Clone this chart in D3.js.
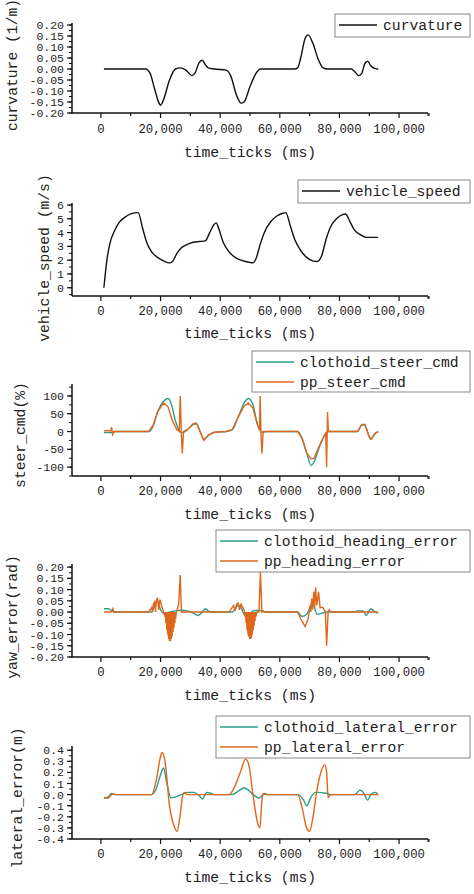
<!DOCTYPE html>
<html><head><meta charset="utf-8">
<script src="https://cdn.jsdelivr.net/npm/d3@7"></script>
<style>body{margin:0;background:#fff}text{font-family:"Liberation Mono","DejaVu Sans Mono",monospace;fill:#222}</style>
</head><body><svg id="chart" width="474" height="894"></svg>
<script>
// data: [time_ms, value]
const curvature = [[1000,0],[15000,0],[16500,-0.02],[18000,-0.09],[19500,-0.155],[20000,-0.165],[21000,-0.14],[23000,-0.05],[25000,0],[26500,0.005],[28500,-0.005],[30500,-0.03],[31500,-0.02],[33000,0.03],[34000,0.04],[35000,0.02],[36000,0.005],[38000,0],[42000,-0.005],[43500,-0.03],[45500,-0.12],[47000,-0.155],[48000,-0.15],[50000,-0.08],[52000,-0.02],[53500,0],[65000,0],[66000,0.005],[67000,0.05],[68500,0.14],[69500,0.155],[71000,0.12],[73000,0.04],[74500,0.005],[76000,0],[84000,0],[85000,-0.01],[86500,-0.03],[87500,-0.02],[88500,0.025],[89500,0.035],[90500,0.015],[92000,0.002],[93000,0]];
const vehicleSpeed = [[1000,0],[2000,2],[3000,3.2],[4500,4.1],[6000,4.7],[8000,5.1],[10000,5.35],[12500,5.45],[14000,4.3],[15500,3.2],[17000,2.6],[19000,2.2],[21000,1.95],[23000,1.8],[24000,1.9],[25500,2.5],[27000,2.9],[29000,3.15],[31000,3.3],[33000,3.35],[35000,3.4],[36500,4],[38000,4.6],[38700,4.7],[39500,4.3],[41000,3.3],[43000,2.6],[45000,2.2],[47000,2.0],[49500,1.85],[51000,1.8],[52000,2.1],[53500,3.2],[55000,4.1],[57000,4.8],[59000,5.2],[61000,5.4],[62000,5.45],[63500,4.5],[65000,3.5],[67000,2.7],[69000,2.2],[71000,1.95],[72500,1.9],[74000,2.3],[75500,3.5],[77000,4.4],[79000,5.0],[81000,5.3],[82000,5.35],[83500,4.8],[85000,4.2],[87000,3.85],[89000,3.65],[93000,3.65]];
const clothoidSteer = [[1000,-3],[4000,-3],[5000,0],[16000,0],[17500,15],[19000,55],[21000,85],[22500,93],[23500,80],[25000,30],[26500,0],[27500,-3],[29000,5],[31000,20],[32000,22],[33500,-5],[34500,-22],[36000,-12],[38000,-2],[42000,0],[44000,5],[46000,40],[48000,80],[49500,93],[51000,75],[52500,20],[54000,-2],[56000,0],[66000,0],[67500,-20],[69000,-60],[70500,-95],[71500,-85],[73000,-50],[75000,-10],[76500,0],[86000,0],[87500,18],[88500,18],[90000,-15],[90500,-22],[92000,-5],[93000,0]];
const ppSteer = [[1000,2],[3300,2],[3600,12],[3900,-8],[4300,0],[16000,0],[17500,18],[19000,55],[21000,80],[22500,70],[24000,30],[25500,5],[26300,0],[26600,100],[27000,-10],[27300,-62],[27700,0],[29000,5],[31000,22],[32000,24],[33500,-5],[34500,-25],[36000,-10],[38000,-2],[42000,0],[44000,5],[46000,40],[48000,72],[49500,80],[51000,65],[52500,20],[53200,5],[53400,100],[53700,-10],[54000,-62],[54400,0],[56000,0],[66000,0],[67500,-20],[69000,-60],[70500,-77],[71500,-75],[73000,-45],[75000,-10],[75400,-5],[75700,-100],[76000,55],[76300,0],[86000,0],[87500,20],[88500,20],[90000,-15],[90500,-22],[92000,-5],[93000,0]];
const clothoidHeading = [[1000,0.015],[2500,0.015],[3500,0.005],[5000,0],[17000,0],[18000,0.03],[19000,0.05],[20000,0.01],[21000,-0.005],[24000,0.003],[27000,0.008],[29000,0.005],[31000,-0.005],[32500,-0.015],[34000,0],[35000,0.015],[36000,0.005],[37000,0],[44000,0],[46000,0.03],[47000,0.02],[48000,-0.01],[49000,-0.02],[51000,0.005],[53000,0.008],[55000,0],[66000,0],[67500,-0.02],[69000,-0.01],[71000,0.04],[72500,-0.01],[74000,-0.005],[76000,0],[85000,0],[86000,0.005],[88000,0.005],[89000,-0.015],[90500,0.015],[92000,0],[93000,-0.005]];
const ppHeading = [[1000,0],[3500,0],[4000,0.015],[4300,0],[16000,0],[17000,0.02],[17300,0],[17600,0.035],[18000,0.045],[18300,0],[18600,0.055],[19000,0.06],[19400,0.01],[19800,0.055],[20500,0.02],[21000,0],
 [21500,-0.02],[21600,0],[21800,-0.05],[21900,0],[22100,-0.08],[22200,0],[22400,-0.1],[22500,0],[22700,-0.12],[22800,0],[23000,-0.13],[23100,0],[23300,-0.13],[23400,0],[23600,-0.12],[23700,0],[23900,-0.11],[24000,0],[24200,-0.09],[24300,0],[24500,-0.07],[24600,0],[24800,-0.05],[24900,0],[25100,-0.03],[25300,0],
 [25800,0.02],[26100,0.04],[26600,0.165],[27000,0],[43000,0],[44500,0.03],[45000,0.005],[45500,0.035],[46000,0.04],[46500,0.01],[47000,0.035],[48000,0.01],
 [48400,-0.02],[48500,0],[48700,-0.05],[48800,0],[49000,-0.08],[49100,0],[49300,-0.1],[49400,0],[49600,-0.11],[49700,0],[49900,-0.12],[50000,0],[50200,-0.12],[50300,0],[50500,-0.115],[50600,0],[50800,-0.1],[50900,0],[51100,-0.08],[51200,0],[51400,-0.06],[51500,0],[51700,-0.04],[51800,0],[52000,-0.02],[52300,0],
 [53000,0],[53500,0.18],[54000,0],[54500,0.005],[55000,0],[66000,0],[67000,-0.03],[68500,-0.065],[69500,-0.03],[70200,0.03],[70400,0],[70700,0.06],[71000,0.01],[71400,0.09],[71700,0.02],[72000,0.11],[72400,0.03],[73000,0.09],[73500,0.02],[74500,0.02],[75300,0],[75700,-0.15],[76200,0],[76600,0.01],[77000,0],[93000,0]];
const clothoidLateral = [[1000,-0.03],[2500,-0.02],[3500,0.01],[5000,0],[17000,0],[18500,0.05],[20000,0.18],[21000,0.24],[22000,0.12],[23500,-0.03],[25000,-0.02],[27000,0],[29000,0.02],[31000,0.02],[33000,-0.01],[34000,-0.04],[35500,0.02],[37000,0.01],[38000,0],[44000,0],[46000,0.03],[48000,0.06],[49000,0.05],[51000,0],[53000,-0.03],[55000,0.01],[56000,0],[66000,0],[68000,-0.05],[69000,-0.1],[70500,-0.02],[72000,0.02],[76000,0.01],[77000,0],[85000,0],[87000,0.04],[88000,0.02],[89500,-0.05],[90500,0],[92000,0.02],[93000,0]];
const ppLateral = [[1000,-0.03],[2500,-0.03],[4000,0.01],[5000,0],[17000,0],[18500,0.12],[19800,0.32],[20500,0.38],[21500,0.3],[23000,-0.1],[24500,-0.28],[25500,-0.33],[26500,-0.2],[27500,0],[28000,0.02],[29000,0],[43000,0],[45000,0.08],[47000,0.22],[48500,0.32],[49500,0.28],[51000,0],[52500,-0.25],[53300,-0.3],[54000,-0.05],[54500,0.01],[55000,0],[66000,0],[67500,-0.12],[69000,-0.3],[70000,-0.33],[71000,-0.22],[72500,0.05],[74000,0.22],[75000,0.27],[75700,0.2],[76200,-0.03],[77000,0],[93000,0]];

const xTicks = [0, 20000, 40000, 60000, 80000, 100000];
const teal = "#2a9d8a", orange = "#e0661c";

const panels = [
  {ylab:"curvature (1/m)", ylx:12, yly:65, dom:[-0.2,0.2], rng:[113,25], ticks:d3.range(-0.2,0.2001,0.05), minor:0.025, fmt:d3.format(".2f"),
   series:[{d:curvature,c:"#111",n:"curvature",cv:true}], lg:[335,14,135,23], xl:133, xt:157},
  {ylab:"vehicle_speed (m/s)", ylx:44, yly:258, dom:[-0.6,6], rng:[296,205], ticks:d3.range(0,7,1), minor:0.5, fmt:d3.format("d"),
   series:[{d:vehicleSpeed,c:"#111",n:"vehicle_speed",cv:true}], lg:[298,180,172,23], xl:315, xt:338},
  {ylab:"steer_cmd(%)", ylx:20, yly:435, dom:[-125,128], rng:[476,386], ticks:d3.range(-100,101,50), minor:25, fmt:d3.format("d"),
   series:[{d:clothoidSteer,c:teal,n:"clothoid_steer_cmd",cv:true},{d:ppSteer,c:orange,n:"pp_steer_cmd",cv:false}], lg:[252,351,218,41], xl:495, xt:519},
  {ylab:"yaw_error(rad)", ylx:12, yly:617, dom:[-0.2,0.205], rng:[657,566], ticks:d3.range(-0.2,0.2001,0.05), minor:0.025, fmt:d3.format(".2f"),
   series:[{d:clothoidHeading,c:teal,n:"clothoid_heading_error",cv:true},{d:ppHeading,c:orange,n:"pp_heading_error",cv:false}], lg:[216,530,254,42], xl:676, xt:700},
  {ylab:"lateral_error(m)", ylx:17, yly:798, dom:[-0.4,0.42], rng:[839,748], ticks:d3.range(-0.4,0.4001,0.1), minor:0.05, fmt:d3.format(".1f"),
   series:[{d:clothoidLateral,c:teal,n:"clothoid_lateral_error",cv:true},{d:ppLateral,c:orange,n:"pp_lateral_error",cv:true}], lg:[216,716,254,42], xl:858, xt:882}
];

const svg = d3.select("#chart");
const x = d3.scaleLinear().domain([-9700, 109700]).range([72, 428]);

panels.forEach(p => {
  const y = d3.scaleLinear().domain(p.dom).range(p.rng);
  const g = svg.append("g");
  const bottom = p.rng[0], top = p.rng[1];

  // axes lines
  g.append("line").attr("x1", 72).attr("x2", 428).attr("y1", bottom).attr("y2", bottom).attr("stroke", "#111").attr("stroke-width", 1.5);
  g.append("line").attr("x1", 72).attr("x2", 72).attr("y1", top - 2).attr("y2", bottom).attr("stroke", "#111").attr("stroke-width", 1.5);

  // x ticks
  d3.range(0, 110001, 10000).forEach(t => {
    const major = t % 20000 === 0;
    g.append("line").attr("x1", x(t)).attr("x2", x(t)).attr("y1", bottom).attr("y2", bottom + (major ? 5 : 3)).attr("stroke", "#111").attr("stroke-width", 1.2);
  });
  g.append("line").attr("x1", 428).attr("x2", 428).attr("y1", bottom).attr("y2", bottom + 3).attr("stroke", "#111");
  xTicks.forEach(t => {
    g.append("text").attr("x", x(t)).attr("y", p.xl).attr("text-anchor", "middle").attr("font-size", 12.3)
      .text(d3.format(",")(t));
  });
  g.append("text").attr("x", x(50000)).attr("y", p.xt).attr("text-anchor", "middle").attr("font-size", 14.7).text("time_ticks (ms)");

  // y ticks
  d3.range(p.dom[0] < p.ticks[0] ? p.ticks[0] - p.minor : p.ticks[0], p.dom[1] + 1e-9, p.minor).forEach(t => {
    if (y(t) < top - 1) return;
    g.append("line").attr("x1", 72).attr("x2", 69).attr("y1", y(t)).attr("y2", y(t)).attr("stroke", "#111");
  });
  p.ticks.forEach(t => {
    g.append("line").attr("x1", 72).attr("x2", 67).attr("y1", y(t)).attr("y2", y(t)).attr("stroke", "#111").attr("stroke-width", 1.2);
    g.append("text").attr("x", 64).attr("y", y(t)).attr("dy", "0.35em").attr("text-anchor", "end").attr("font-size", 11.5)
      .text(p.fmt(Math.abs(t) < 1e-9 ? 0 : t).replace("−", "-"));
  });
  g.append("text").attr("transform", `translate(${p.ylx},${p.yly}) rotate(-90)`).attr("text-anchor", "middle")
    .attr("dy", "0.35em").attr("font-size", 14.7).text(p.ylab);

  // lines
  p.series.forEach(s => {
    const line = d3.line().x(d => x(d[0])).y(d => y(d[1])).curve(s.cv ? d3.curveMonotoneX : d3.curveLinear);
    g.append("path").attr("d", line(s.d)).attr("fill", "none").attr("stroke", s.c).attr("stroke-width", 1.4);
  });

  // legend
  const [lx, ly, lw, lh] = p.lg;
  g.append("rect").attr("x", lx).attr("y", ly).attr("width", lw).attr("height", lh).attr("fill", "#fff").attr("stroke", "#888");
  p.series.forEach((s, i) => {
    const cy = ly + 11 + i * 20;
    g.append("line").attr("x1", lx + 4).attr("x2", lx + 42).attr("y1", cy).attr("y2", cy).attr("stroke", s.c).attr("stroke-width", 1.5);
    g.append("text").attr("x", lx + 48).attr("y", cy).attr("dy", "0.35em").attr("font-size", 14.7).text(s.n);
  });
});
</script></body></html>
